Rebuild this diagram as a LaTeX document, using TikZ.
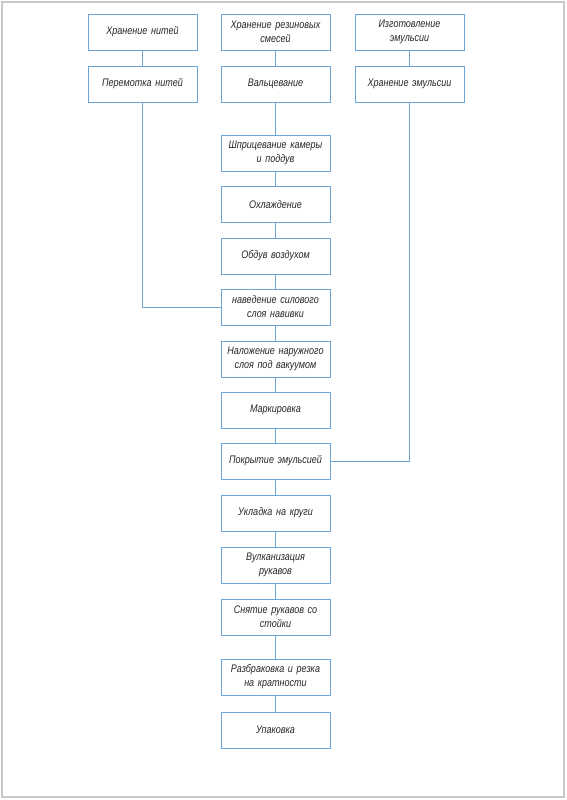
\documentclass[tikz,border=0pt]{standalone}
\usepackage{fontspec}
\setmainfont{Liberation Sans}[FakeStretch=0.82]
\usetikzlibrary{shapes,positioning}
\definecolor{lineblue}{RGB}{110,165,215}
\definecolor{framegray}{RGB}{200,200,200}

\begin{document}
\begin{tikzpicture}[x=1pt,y=-1pt,
	stage/.style={shape=rectangle, draw=lineblue, line width=0.8pt, minimum width=109pt, minimum height=36pt, text width=106pt, align=center, inner sep=1pt, text=black!85, font=\fontsize{11}{14}\selectfont\itshape},
	link/.style={draw=lineblue, line width=0.8pt}]
	\useasboundingbox (0,0) rectangle (566,800);
	\draw[framegray, line width=1.5pt] (2,2) rectangle (564,797);

	\node[stage] (hn) at (142.5,32) {Хранение нитей};
	\node[stage] (pn) at (142.5,84) {Перемотка нитей};
	\node[stage] (hr) at (275.5,32) {Хранение резиновых\\смесей};
	\node[stage] (val) at (275.5,84) {Вальцевание};
	\node[stage] (ie) at (409.5,32) {Изготовление\\эмульсии};
	\node[stage] (he) at (409.5,84) {Хранение эмульсии};

	\node[stage] (shp) at (275.5,153) {Шприцевание камеры\\и поддув};
	\node[stage] (ohl) at (275.5,204.5) {Охлаждение};
	\node[stage] (obd) at (275.5,256) {Обдув воздухом};
	\node[stage] (nav) at (275.5,307) {наведение силового\\слоя навивки};
	\node[stage] (nal) at (275.5,359) {Наложение наружного\\слоя под вакуумом};
	\node[stage] (mar) at (275.5,410) {Маркировка};
	\node[stage] (pok) at (275.5,461) {Покрытие эмульсией};
	\node[stage] (ukl) at (275.5,513) {Укладка на круги};
	\node[stage] (vul) at (275.5,565) {Вулканизация\\рукавов};
	\node[stage] (sny) at (275.5,617) {Снятие рукавов со\\стойки};
	\node[stage] (raz) at (275.5,677) {Разбраковка и резка\\на кратности};
	\node[stage] (upa) at (275.5,730) {Упаковка};

	\path [link] (hn) edge (pn);
	\path [link] (hr) edge (val);
	\path [link] (ie) edge (he);
	\path [link] (val) edge (shp);
	\path [link] (shp) edge (ohl);
	\path [link] (ohl) edge (obd);
	\path [link] (obd) edge (nav);
	\path [link] (nav) edge (nal);
	\path [link] (nal) edge (mar);
	\path [link] (mar) edge (pok);
	\path [link] (pok) edge (ukl);
	\path [link] (ukl) edge (vul);
	\path [link] (vul) edge (sny);
	\path [link] (sny) edge (raz);
	\path [link] (raz) edge (upa);

	\draw [link] (pn) |- (nav);
	\draw [link] (he) |- (pok);
\end{tikzpicture}
\end{document}
